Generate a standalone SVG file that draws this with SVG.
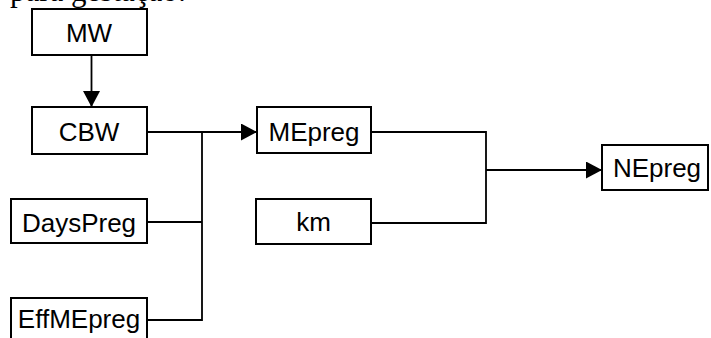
<svg xmlns="http://www.w3.org/2000/svg" width="711" height="338" viewBox="0 0 711 338">
  <style>
    .box { fill: #ffffff; stroke: #000000; stroke-width: 2; }
    .lbl { font-family: "Liberation Sans", Arial, sans-serif; font-size: 26px; fill: #000000; text-anchor: middle; }
    .wire { fill: none; stroke: #000000; stroke-width: 1.8; }
    .cap { font-family: "Liberation Serif", "Times New Roman", serif; font-size: 31px; fill: #000000; }
  </style>
  <defs>
    <marker id="arrow" viewBox="0 0 16 17" refX="16" refY="8.5" markerWidth="16" markerHeight="17" markerUnits="userSpaceOnUse" orient="auto">
      <path d="M0,0 L16,8.5 L0,17 z" fill="#000000"/>
    </marker>
  </defs>

  <rect width="711" height="338" fill="#ffffff"/>

  <!-- caption line above the chart -->
  <text class="cap" x="10" y="1">para gestação:</text>

  <!-- connectors -->
  <g id="connectors">
    <path class="wire" d="M91.5,55 V107" marker-end="url(#arrow)"/>
    <path class="wire" d="M147,132 H257" marker-end="url(#arrow)"/>
    <path class="wire" d="M147,222 H202"/>
    <path class="wire" d="M147,320 H202 V132"/>
    <path class="wire" d="M371,132 H486 V223 H371"/>
    <path class="wire" d="M486,170 H602" marker-end="url(#arrow)"/>
  </g>

  <g id="MW">
    <rect class="box" x="32" y="9" width="115" height="46"/>
    <text class="lbl" x="89" y="42">MW</text>
  </g>
  <g id="CBW">
    <rect class="box" x="32" y="107" width="115" height="47"/>
    <text class="lbl" x="89" y="141">CBW</text>
  </g>
  <g id="DaysPreg">
    <rect class="box" x="11" y="199" width="136" height="44"/>
    <text class="lbl" x="79" y="232">DaysPreg</text>
  </g>
  <g id="EffMEpreg">
    <rect class="box" x="11" y="298" width="136" height="50"/>
    <text class="lbl" x="79" y="328">EffMEpreg</text>
  </g>
  <g id="MEpreg">
    <rect class="box" x="257" y="107" width="114" height="46"/>
    <text class="lbl" x="314" y="141">MEpreg</text>
  </g>
  <g id="km">
    <rect class="box" x="256" y="199" width="115" height="45"/>
    <text class="lbl" x="313.5" y="231">km</text>
  </g>
  <g id="NEpreg">
    <rect class="box" x="602" y="145" width="106" height="45"/>
    <text class="lbl" x="657" y="177">NEpreg</text>
  </g>
</svg>
